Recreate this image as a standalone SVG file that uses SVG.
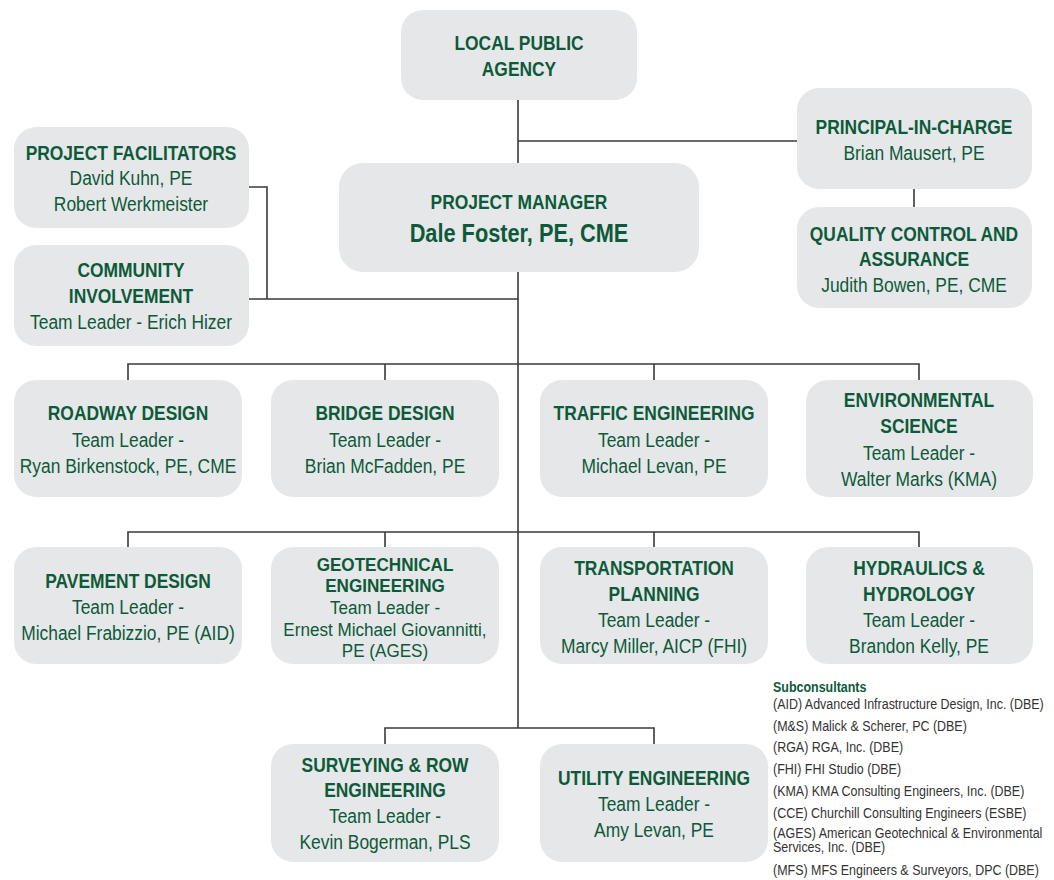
<svg xmlns="http://www.w3.org/2000/svg" width="1054" height="880" viewBox="0 0 1054 880">
<style>
.box{fill:#e6e7e8}
.ln{fill:none;stroke:#3a3a3a;stroke-width:1.6}
text{font-family:"Liberation Sans",Arial,sans-serif;fill:#0d5a3a;text-anchor:middle}
.b{font-weight:bold;font-size:20px}
.r{font-size:20px}
.gb{font-weight:bold;font-size:19px}
.gr{font-size:19px}
.big{font-weight:bold;font-size:25px}
.s{font-size:14px;fill:#333;text-anchor:start}
.sb{font-size:14px;font-weight:bold;text-anchor:start}
</style>
<rect width="1054" height="880" fill="#fff"/>
<g id="connectors">
<path class="ln" d="M518 100V163M518 141H797M914 189V207M249 187H267V299M249 299H518M518 272V728"/>
<path class="ln" d="M128 380V364H919V380M385 364V380M654 364V380"/>
<path class="ln" d="M128 547V532H919V547M385 532V547M654 532V547"/>
<path class="ln" d="M385 744V728H654V744"/>
</g>
<g id="lpa"><rect class="box" x="401" y="10" width="236" height="90" rx="22"/>
<g transform="matrix(.87 0 0 1 519 0)"><text class="b" y="50">LOCAL PUBLIC</text><text class="b" y="76">AGENCY</text></g></g>
<g id="pic"><rect class="box" x="797" y="88" width="235" height="101" rx="22"/>
<g transform="matrix(.87 0 0 1 914 0)"><text class="b" y="134">PRINCIPAL-IN-CHARGE</text><text class="r" y="160">Brian Mausert, PE</text></g></g>
<g id="qc"><rect class="box" x="797" y="207" width="235" height="101" rx="22"/>
<g transform="matrix(.87 0 0 1 914 0)"><text class="b" y="241">QUALITY CONTROL AND</text><text class="b" y="266">ASSURANCE</text><text class="r" y="292">Judith Bowen, PE, CME</text></g></g>
<g id="pm"><rect class="box" x="339" y="163" width="360" height="109" rx="24"/>
<g transform="matrix(.87 0 0 1 519 0)"><text class="b" y="209">PROJECT MANAGER</text><text class="big" y="242">Dale Foster, PE, CME</text></g></g>
<g id="pf"><rect class="box" x="14" y="127" width="235" height="101" rx="22"/>
<g transform="matrix(.87 0 0 1 131 0)"><text class="b" y="160">PROJECT FACILITATORS</text><text class="r" y="185">David Kuhn, PE</text><text class="r" y="211">Robert Werkmeister</text></g></g>
<g id="ci"><rect class="box" x="14" y="245" width="235" height="101" rx="22"/>
<g transform="matrix(.87 0 0 1 131 0)"><text class="b" y="277">COMMUNITY</text><text class="b" y="303">INVOLVEMENT</text><text class="r" y="329">Team Leader - Erich Hizer</text></g></g>
<g id="roadway"><rect class="box" x="14" y="380" width="228" height="117" rx="22"/>
<g transform="matrix(.87 0 0 1 128 0)"><text class="b" y="420">ROADWAY DESIGN</text><text class="r" y="447">Team Leader -</text><text class="r" y="473">Ryan Birkenstock, PE, CME</text></g></g>
<g id="bridge"><rect class="box" x="271" y="380" width="228" height="117" rx="22"/>
<g transform="matrix(.87 0 0 1 385 0)"><text class="b" y="420">BRIDGE DESIGN</text><text class="r" y="447">Team Leader -</text><text class="r" y="473">Brian McFadden, PE</text></g></g>
<g id="traffic"><rect class="box" x="540" y="380" width="228" height="117" rx="22"/>
<g transform="matrix(.87 0 0 1 654 0)"><text class="b" y="420">TRAFFIC ENGINEERING</text><text class="r" y="447">Team Leader -</text><text class="r" y="473">Michael Levan, PE</text></g></g>
<g id="env"><rect class="box" x="806" y="380" width="227" height="117" rx="22"/>
<g transform="matrix(.87 0 0 1 919 0)"><text class="b" y="407">ENVIRONMENTAL</text><text class="b" y="433">SCIENCE</text><text class="r" y="460">Team Leader -</text><text class="r" y="486">Walter Marks (KMA)</text></g></g>
<g id="pavement"><rect class="box" x="14" y="547" width="228" height="117" rx="22"/>
<g transform="matrix(.87 0 0 1 128 0)"><text class="b" y="588">PAVEMENT DESIGN</text><text class="r" y="614">Team Leader -</text><text class="r" y="640">Michael Frabizzio, PE (AID)</text></g></g>
<g id="geo"><rect class="box" x="271" y="547" width="228" height="117" rx="22"/>
<g transform="matrix(.9 0 0 1 385 0)"><text class="gb" y="571">GEOTECHNICAL</text><text class="gb" y="592">ENGINEERING</text><text class="gr" y="614">Team Leader -</text><text class="gr" y="636">Ernest Michael Giovannitti,</text><text class="gr" y="657">PE (AGES)</text></g></g>
<g id="transport"><rect class="box" x="540" y="547" width="228" height="117" rx="22"/>
<g transform="matrix(.87 0 0 1 654 0)"><text class="b" y="575">TRANSPORTATION</text><text class="b" y="601">PLANNING</text><text class="r" y="627">Team Leader -</text><text class="r" y="653">Marcy Miller, AICP (FHI)</text></g></g>
<g id="hydro"><rect class="box" x="806" y="547" width="227" height="117" rx="22"/>
<g transform="matrix(.87 0 0 1 919 0)"><text class="b" y="575">HYDRAULICS &amp;</text><text class="b" y="601">HYDROLOGY</text><text class="r" y="627">Team Leader -</text><text class="r" y="653">Brandon Kelly, PE</text></g></g>
<g id="survey"><rect class="box" x="271" y="744" width="228" height="118" rx="22"/>
<g transform="matrix(.87 0 0 1 385 0)"><text class="b" y="772">SURVEYING &amp; ROW</text><text class="b" y="797">ENGINEERING</text><text class="r" y="823">Team Leader -</text><text class="r" y="849">Kevin Bogerman, PLS</text></g></g>
<g id="utility"><rect class="box" x="540" y="744" width="228" height="118" rx="22"/>
<g transform="matrix(.87 0 0 1 654 0)"><text class="b" y="785">UTILITY ENGINEERING</text><text class="r" y="811">Team Leader -</text><text class="r" y="837">Amy Levan, PE</text></g></g>
<g id="subconsultants" transform="matrix(.89 0 0 1 773 0)">
<text class="sb" y="692">Subconsultants</text>
<text class="s" y="709">(AID) Advanced Infrastructure Design, Inc. (DBE)</text>
<text class="s" y="731">(M&amp;S) Malick &amp; Scherer, PC (DBE)</text>
<text class="s" y="752">(RGA) RGA, Inc. (DBE)</text>
<text class="s" y="774">(FHI) FHI Studio (DBE)</text>
<text class="s" y="796">(KMA) KMA Consulting Engineers, Inc. (DBE)</text>
<text class="s" y="818">(CCE) Churchill Consulting Engineers (ESBE)</text>
<text class="s" y="838">(AGES) American Geotechnical &amp; Environmental</text>
<text class="s" y="852">Services, Inc. (DBE)</text>
<text class="s" y="875">(MFS) MFS Engineers &amp; Surveyors, DPC (DBE)</text>
</g>
</svg>
